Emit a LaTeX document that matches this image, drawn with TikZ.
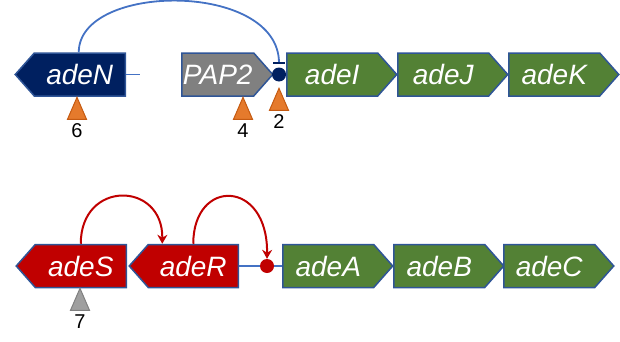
\documentclass[tikz,border=0pt]{standalone}
\usepackage{fontspec}
\setmainfont{Liberation Sans}
\usepackage{xcolor}
\usetikzlibrary{shapes.symbols, shapes.geometric, arrows.meta, positioning}
\definecolor{geneborder}{HTML}{2F5597}
\definecolor{genegreen}{HTML}{538135}
\definecolor{genenavy}{HTML}{002060}
\definecolor{genegray}{HTML}{808080}
\definecolor{genered}{HTML}{C00000}
\definecolor{linkblue}{HTML}{4472C4}
\definecolor{siteorange}{HTML}{E57A2C}
\definecolor{siteorangedk}{HTML}{C55A11}
\tikzset{
  gene/.style={
    signal, signal pointer angle=97,
    draw=geneborder, line width=1.5pt,
    fill=#1, text=white,
    minimum height=43pt, minimum width=110pt,
    inner sep=0pt,
    font=\itshape\fontsize{28}{28}\selectfont
  },
  gene/.default=genegreen,
  genefwd/.style={gene=#1, signal to=east, anchor=west},
  genefwd/.default=genegreen,
  generev/.style={gene=#1, signal to=west, anchor=east},
  generev/.default=genered,
  site/.style={
    isosceles triangle, isosceles triangle stretches,
    shape border rotate=90,
    minimum width=19pt, minimum height=22pt,
    inner sep=0pt, line width=1pt,
    fill=siteorange, draw=siteorangedk
  },
  graysite/.style={site, fill=gray!75, draw=gray},
  sitelabel/.style={font=\fontsize{20}{20}\selectfont, inner sep=0pt},
  bindsite/.style={circle, fill=#1, minimum size=14pt, inner sep=0pt},
  link/.style={linkblue, line width=1.8pt},
  activ/.style={genered, line width=2pt, -{Stealth[length=9pt, width=10pt]}}
}
\begin{document}
\begin{tikzpicture}[x=1pt, y=1pt]
\useasboundingbox (0,0) rectangle (620,341);

%------------------------------------------------------
% TOP ROW
%------------------------------------------------------

% adeN (reverse)
\node[generev=genenavy] (adeN) at (126,266.5) {adeN};

% PAP2
\node[genefwd=genegray, minimum width=91pt] (pap2) at (181,266.5) {PAP2};

% adeIJK operon
\node[genefwd] (adeI) at (286,266.5) {adeI};
\node[genefwd] (adeJ) at (397,266.5) {adeJ};
\node[genefwd] (adeK) at (508,266.5) {adeK};

% AdeN binding site
\node[bindsite=genenavy] (nbox) at (279,266.5) {};
\coordinate (nbar) at (279,278);
\coordinate (nend) at (140,266.5);

% insertion sites
\node[site, anchor=apex] (s6) at (77,245) {};
\node[sitelabel, below=4pt of s6] (l6) {6};
\node[site, anchor=apex] (s4) at (243,245) {};
\node[sitelabel, below=4pt of s4] (l4) {4};
\node[site, anchor=apex] (s2) at (279,254) {};
\node[sitelabel, below=4pt of s2] (l2) {2};

%------------------------------------------------------
% BOTTOM ROW
%------------------------------------------------------

% adeRS (reverse)
\node[generev, minimum width=109pt] (adeR) at (239,75) {adeR};
\node[generev] (adeS) at (127,75) {adeS};

% adeABC operon
\node[genefwd] (adeA) at (282,75) {adeA};
\node[genefwd] (adeB) at (393,75) {adeB};
\node[genefwd] (adeC) at (503,75) {adeC};

% AdeR binding site
\node[bindsite=genered] (rbox) at (267,75) {};

% insertion site
\node[graysite, anchor=apex] (s7) at (80,54) {};
\node[sitelabel, below=4pt of s7] (l7) {7};

%------------------------------------------------------
% EDGES
%------------------------------------------------------

\draw[link] (adeN.east) -- (nend);
\draw[link] ([xshift=-1pt]adeN.north) .. controls +(0,70) and (279,360) .. (nbar);
\draw[genenavy, line width=2.5pt] ([xshift=-6pt]nbar) -- ([xshift=6pt]nbar);
\draw[link] (adeR.east) -- (rbox);
\draw[link] (rbox) -- (adeA.west);
\draw[activ] (adeS.north) .. controls +(0,64) and (163,160) .. ([xshift=-31pt]adeR.north);
\draw[activ] (adeR.north) .. controls +(0,66) and (268,162) .. (rbox.north);

\end{tikzpicture}
\end{document}
